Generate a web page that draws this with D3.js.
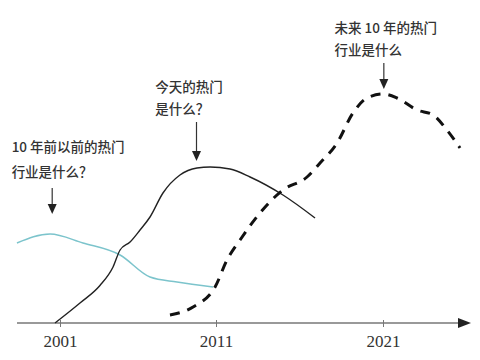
<!DOCTYPE html>
<html><head><meta charset="utf-8">
<script src="https://cdn.jsdelivr.net/npm/d3@7/dist/d3.min.js"></script>
<style>html,body{margin:0;padding:0;background:#fff}svg{display:block}</style>
</head><body><svg id="c" width="480" height="360"></svg>
<script>
// Data: year and "popularity" (arbitrary 0-100)
const tickYears = [2001, 2011, 2021];
const tickLabels = ["2001", "2011", "2021"];

const pastYears  = [1998.24, 2000.36, 2002.47, 2004.85, 2006.77, 2008.5, 2010.81];
const pastValues = [32, 35.6, 32, 27.2, 18.4, 16.4, 14.4];

const todayYears  = [2000.68, 2002.28, 2003.56, 2004.4, 2004.85, 2005.49, 2006.13, 2006.77, 2007.6, 2008.69, 2009.78, 2010.62, 2011.84, 2013.04, 2015.01, 2016.93];
const todayValues = [0, 8, 15, 22.4, 29.2, 32.4, 37.2, 42.4, 52, 59.2, 62, 62.4, 61.6, 58.4, 51.2, 42];

const futureYears  = [2008.05, 2009.53, 2010.94, 2011.66, 2012.44, 2013.63, 2015.01, 2016.45, 2017.23, 2018.25, 2019.2, 2020.04, 2021, 2021.84, 2023.04, 2024, 2024.83, 2025.61];
const futureValues = [3.2, 6.4, 14.4, 25.2, 33.2, 44, 53.2, 58.4, 64, 72, 84, 90, 91.6, 90, 85.2, 83.2, 77.2, 70];

const notes = [
  {lines: ["10 年前以前的热门", "行业是什么？"], year: 2000.5, top: 152, gap: 25, arrowFrom: 188, arrowTo: 214, textYear: 1997.9},
  {lines: ["今天的热门", "是什么？"], year: 2009.75, top: 92, gap: 22, arrowFrom: 122, arrowTo: 161, textYear: 2007.1},
  {lines: ["未来 10 年的热门", "行业是什么"], year: 2021.05, top: 33, gap: 22, arrowFrom: 63, arrowTo: 89, textYear: 2018.1}
];

const svg = d3.select("#c");
const x = d3.scaleLinear().domain([2001, 2011, 2021]).range([60, 216, 383]);
const y = d3.scaleLinear().domain([0, 100]).range([323, 73]);
const axisY = y(0);

const line = d3.line().x(d => x(d[0])).y(d => y(d[1])).curve(d3.curveMonotoneX);
const zip = (a, b) => a.map((v, i) => [v, b[i]]);

// axis
const axis = d3.axisBottom(x).tickValues(tickYears).tickFormat((d, i) => tickLabels[i]).tickSizeInner(4).tickSizeOuter(0).tickPadding(8);
const gA = svg.append("g").attr("transform", `translate(0,${axisY})`).call(axis);
gA.select(".domain").remove();
gA.selectAll(".tick line").attr("y1", -3).attr("y2", 4).attr("stroke", "#777").attr("stroke-width", 1);
gA.selectAll(".tick text").attr("font-family", "'Liberation Serif', serif").attr("font-size", 17).attr("fill", "#333");
svg.append("line").attr("x1", 17).attr("x2", 460).attr("y1", axisY).attr("y2", axisY).attr("stroke", "#777").attr("stroke-width", 1.5);
svg.append("path").attr("d", `M458,${axisY-5}L471,${axisY}L458,${axisY+5}Z`).attr("fill", "#222");

// curves
svg.append("path").datum(zip(pastYears, pastValues)).attr("d", line)
  .attr("fill", "none").attr("stroke", "#7cc4cc").attr("stroke-width", 1.5);
svg.append("path").datum(zip(todayYears, todayValues)).attr("d", line)
  .attr("fill", "none").attr("stroke", "#222").attr("stroke-width", 1.4);
svg.append("path").datum(zip(futureYears, futureValues)).attr("d", line)
  .attr("fill", "none").attr("stroke", "#111").attr("stroke-width", 3).attr("stroke-dasharray", "10,8");

// annotations
notes.forEach(n => {
  const g = svg.append("g");
  n.lines.forEach((t, i) => {
    g.append("text").attr("x", x(n.textYear)).attr("y", n.top + i * n.gap)
      .attr("font-family", "'Noto Sans CJK SC', sans-serif").attr("font-size", 13.5)
      .attr("font-weight", 500).attr("fill", "#333").text(t);
  });
  const ax = x(n.year);
  g.append("line").attr("x1", ax).attr("x2", ax).attr("y1", n.arrowFrom).attr("y2", n.arrowTo - 8)
    .attr("stroke", "#333").attr("stroke-width", 1.2);
  g.append("path").attr("d", `M${ax-4.5},${n.arrowTo-10}L${ax+4.5},${n.arrowTo-10}L${ax},${n.arrowTo}Z`).attr("fill", "#222");
});
</script></body></html>
